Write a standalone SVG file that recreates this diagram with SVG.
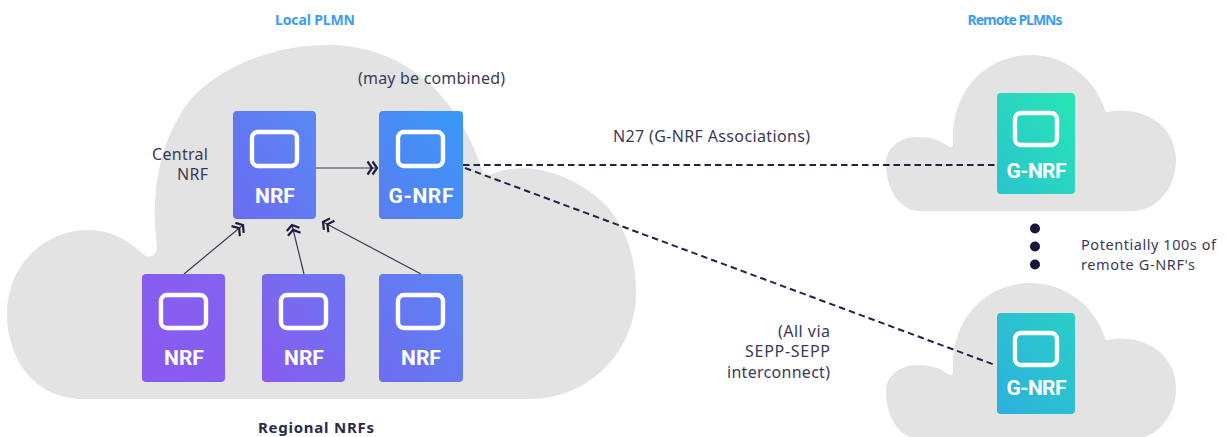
<svg xmlns="http://www.w3.org/2000/svg" width="1228" height="437" viewBox="0 0 1228 437">
<style>
.cloud{fill:#e3e3e3}
.box{stroke:none}
.icon{fill:none;stroke:#fff;stroke-width:4.4}
.lbl{font:700 21px Roboto,"Noto Sans",sans-serif;fill:#fff;text-anchor:middle}
.t{font:400 16px "Noto Sans",Roboto,sans-serif;fill:#3a3a58}
.s{font-size:14.500px}
.e{text-anchor:end}
.h{font:700 14px "Noto Sans",Roboto,sans-serif;text-anchor:middle}
.r{font-size:15px}
.blue{fill:#3b9cf5}
.dark{fill:#2a2a47}
.link{fill:none;stroke:#3a3a55;stroke-width:1.2}
.dash{fill:none;stroke:#23234a;stroke-width:2;stroke-dasharray:6.500 4}
.dot{fill:#16163a}
</style>
<defs>
<marker id="dbl" markerUnits="userSpaceOnUse" markerWidth="20" markerHeight="20" refX="13" refY="8" orient="auto" overflow="visible">
<path d="M3.500 1.500 L8 8 L3.500 14.500 M8.500 1.500 L13 8 L8.500 14.500" fill="none" stroke="#1c1c3c" stroke-width="2.200"/>
</marker>
<linearGradient id="g1" x1="0" y1="1" x2="1" y2="0"><stop offset="0" stop-color="#6b6bf2"/><stop offset="1" stop-color="#5889f4"/></linearGradient>
<linearGradient id="g2" x1="0" y1="1" x2="1" y2="0"><stop offset="0" stop-color="#5a7df3"/><stop offset="1" stop-color="#3899f8"/></linearGradient>
<linearGradient id="g3" x1="0" y1="1" x2="1" y2="0"><stop offset="0" stop-color="#8c58f0"/><stop offset="1" stop-color="#8362f1"/></linearGradient>
<linearGradient id="g4" x1="0" y1="1" x2="1" y2="0"><stop offset="0" stop-color="#8a5cf0"/><stop offset="1" stop-color="#6b74f1"/></linearGradient>
<linearGradient id="g5" x1="0" y1="1" x2="1" y2="0"><stop offset="0" stop-color="#6f6cf1"/><stop offset="1" stop-color="#5a86f3"/></linearGradient>
<linearGradient id="g6" x1="0" y1="1" x2="1" y2="0"><stop offset="0" stop-color="#2bc4cf"/><stop offset="1" stop-color="#27e6b4"/></linearGradient>
<linearGradient id="g7" x1="0" y1="1" x2="1" y2="0"><stop offset="0" stop-color="#2bb0df"/><stop offset="1" stop-color="#2acfc6"/></linearGradient>
<path id="rc" d="M920 211 C900 211 886 190 886 163 C886 148 900 137 917 137 C930 137 940 140 948 146 C951 148 954 147 953 141 C951 92 985 55 1030 55 C1065 55 1095 78 1105 110 C1106 113 1108 112 1112 111 C1150 107 1176 130 1176 160 C1176 190 1155 211 1133 211 Z"/>
</defs>
<rect width="1228" height="437" fill="#fff"/>
<g id="clouds">
<path class="cloud" d="M84 399 C35 399 7 360 7 313 C7 265 45 230 88 230 C112 230 128 241 141 252 C146 259 157 258 157 247 C150 190 160 140 190 100 C225 62 280 45 328 45 C395 45 455 85 483 172 C485 177 490 175 497 172 C540 158 590 185 610 210 C630 235 636 265 636 293 C636 350 590 399 530 399 Z"/>
<use href="#rc" class="cloud"/>
<use href="#rc" class="cloud" y="228"/>
</g>
<g id="connectors">
<path class="link" marker-end="url(#dbl)" d="M316 168 H377"/>
<path class="link" marker-end="url(#dbl)" d="M184 274 L243 225"/>
<path class="link" marker-end="url(#dbl)" d="M304 274 L292 225"/>
<path class="link" marker-end="url(#dbl)" d="M421 274 L323 222"/>
<path class="dash" d="M463 165 H997"/>
<path class="dash" d="M465 168 L995 365"/>
</g>
<g id="nrf-central"><rect class="box" x="233" y="111" width="83" height="108" rx="4" fill="url(#g1)"/><rect class="icon" x="252" y="132" width="45" height="34" rx="6"/><text class="lbl" x="275" y="203">NRF</text></g>
<g id="g-nrf-local"><rect class="box" x="379" y="111" width="84" height="108" rx="4" fill="url(#g2)"/><rect class="icon" x="398" y="132" width="45" height="34" rx="6"/><text class="lbl" x="421" y="203" textLength="65">G-NRF</text></g>
<g id="nrf-regional-1"><rect class="box" x="142" y="274" width="83" height="108" rx="4" fill="url(#g3)"/><rect class="icon" x="161" y="295" width="45" height="33" rx="6"/><text class="lbl" x="184" y="365">NRF</text></g>
<g id="nrf-regional-2"><rect class="box" x="262" y="274" width="83" height="108" rx="4" fill="url(#g4)"/><rect class="icon" x="281" y="295" width="45" height="33" rx="6"/><text class="lbl" x="304" y="365">NRF</text></g>
<g id="nrf-regional-3"><rect class="box" x="379" y="274" width="84" height="108" rx="4" fill="url(#g5)"/><rect class="icon" x="398" y="295" width="45" height="33" rx="6"/><text class="lbl" x="421" y="365">NRF</text></g>
<g id="g-nrf-remote-1"><rect class="box" x="997" y="93" width="78" height="101" rx="4" fill="url(#g6)"/><rect class="icon" x="1015" y="113" width="42" height="32" rx="6"/><text class="lbl" x="1036.500" y="178" textLength="60">G-NRF</text></g>
<g id="g-nrf-remote-2"><rect class="box" x="997" y="313" width="78" height="101" rx="4" fill="url(#g7)"/><rect class="icon" x="1015" y="333" width="42" height="32" rx="6"/><text class="lbl" x="1036.500" y="395" textLength="60">G-NRF</text></g>
<g id="ellipsis"><circle class="dot" cx="1035" cy="228.500" r="5"/><circle class="dot" cx="1035" cy="246.500" r="5"/><circle class="dot" cx="1035" cy="264.500" r="5"/></g>
<g id="labels">
<text class="h blue" x="315" y="25" textLength="80">Local PLMN</text>
<text class="h blue" x="1015" y="25" textLength="95">Remote PLMNs</text>
<text class="h r dark" x="316" y="432.500" textLength="116">Regional NRFs</text>
<text class="t" x="358" y="84" textLength="147">(may be combined)</text>
<text class="t e" x="208" y="159.500" textLength="56">Central</text>
<text class="t e" x="208" y="180" textLength="31">NRF</text>
<text class="t" x="613" y="142" textLength="197">N27 (G-NRF Associations)</text>
<text class="t s" x="1081" y="250" textLength="135">Potentially 100s of</text>
<text class="t s" x="1081" y="270" textLength="114">remote G-NRF's</text>
<text class="t e" x="830" y="336.500" textLength="52">(All via</text>
<text class="t e" x="830" y="357" textLength="85">SEPP-SEPP</text>
<text class="t e" x="830" y="377.500" textLength="103">interconnect)</text>
</g>
</svg>
